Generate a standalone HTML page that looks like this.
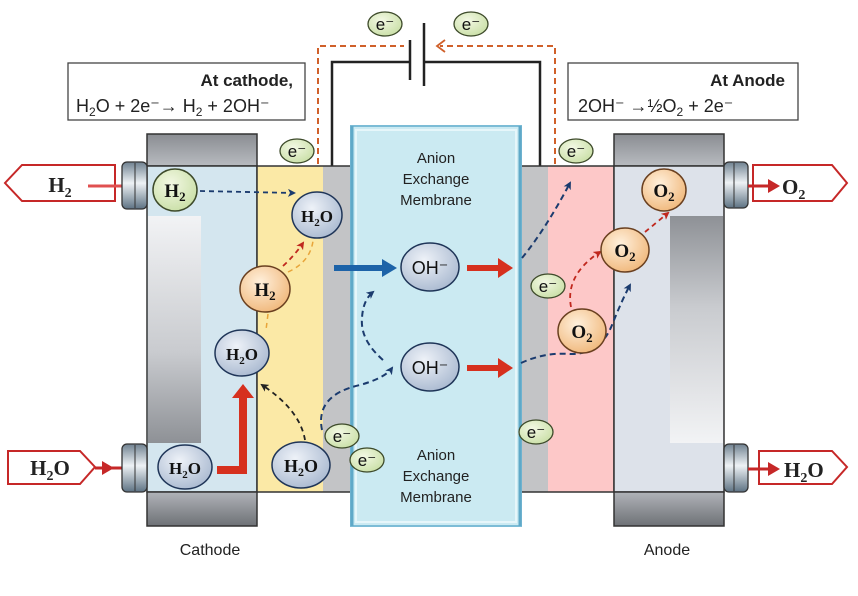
<!DOCTYPE html>
<html><head><meta charset="utf-8"><style>
html,body{margin:0;padding:0;background:#fff}
svg{display:block}
text{font-family:"Liberation Sans",sans-serif}
.s, .s text, text.s{font-family:"Liberation Serif",serif;font-weight:bold}
</style></head><body>
<svg width="858" height="596" viewBox="0 0 858 596" xmlns="http://www.w3.org/2000/svg">
<defs>
<linearGradient id="cap" x1="0" y1="0" x2="0" y2="1"><stop offset="0" stop-color="#8a8d92"/><stop offset="1" stop-color="#b8bbc0"/></linearGradient>
<linearGradient id="capb" x1="0" y1="0" x2="0" y2="1"><stop offset="0" stop-color="#b0b3b8"/><stop offset="1" stop-color="#6e7176"/></linearGradient>
<linearGradient id="rec" x1="0" y1="0" x2="0" y2="1"><stop offset="0" stop-color="#f2f3f5"/><stop offset="0.6" stop-color="#c9cbcf"/><stop offset="1" stop-color="#8e9196"/></linearGradient>
<linearGradient id="recr" x1="0" y1="0" x2="0" y2="1"><stop offset="0" stop-color="#8e9196"/><stop offset="0.4" stop-color="#c9cbcf"/><stop offset="1" stop-color="#f2f3f5"/></linearGradient>
<linearGradient id="cyl" x1="0" y1="0" x2="0" y2="1"><stop offset="0" stop-color="#6f8190"/><stop offset="0.45" stop-color="#eef2f5"/><stop offset="1" stop-color="#5d7283"/></linearGradient>
<radialGradient id="gb" cx="0.4" cy="0.35" r="0.7"><stop offset="0" stop-color="#eef2f8"/><stop offset="1" stop-color="#a9b9d0"/></radialGradient>
<radialGradient id="go" cx="0.4" cy="0.35" r="0.7"><stop offset="0" stop-color="#fff0dc"/><stop offset="1" stop-color="#f0b77a"/></radialGradient>
<radialGradient id="gg" cx="0.4" cy="0.35" r="0.7"><stop offset="0" stop-color="#f3f8e4"/><stop offset="1" stop-color="#c9dfa6"/></radialGradient>
<marker id="ab" markerWidth="8" markerHeight="8" refX="6" refY="4" orient="auto" markerUnits="userSpaceOnUse"><path d="M0,0 L8,4 L0,8 L2,4z" fill="#1b3b6e"/></marker>
<marker id="ar" markerWidth="8" markerHeight="8" refX="6" refY="4" orient="auto" markerUnits="userSpaceOnUse"><path d="M0,0 L8,4 L0,8 L2,4z" fill="#c0281e"/></marker>
<marker id="ak" markerWidth="8" markerHeight="8" refX="6" refY="4" orient="auto" markerUnits="userSpaceOnUse"><path d="M0,0 L8,4 L0,8 L2,4z" fill="#222"/></marker>
</defs>

<!-- circuit -->
<path d="M332,166 V62 H410 M424,62 H540 V166" fill="none" stroke="#222" stroke-width="2.5"/>
<line x1="410" y1="40" x2="410" y2="80" stroke="#222" stroke-width="2.5"/>
<line x1="424" y1="23" x2="424" y2="86" stroke="#222" stroke-width="2.5"/>
<path d="M318,164 V46 H404" fill="none" stroke="#d0602a" stroke-width="2" stroke-dasharray="6,4"/>
<path d="M555,164 V46 H440" fill="none" stroke="#d0602a" stroke-width="2" stroke-dasharray="6,4"/>
<path d="M445,40 L437,46 L445,52" fill="none" stroke="#d0602a" stroke-width="1.8"/>

<!-- boxes -->
<rect x="68" y="63" width="237" height="57" fill="#fff" stroke="#444" stroke-width="1.3"/>
<text x="293" y="86" text-anchor="end" font-size="17" font-weight="bold" fill="#222">At cathode,</text>
<text x="76" y="112" font-size="18" fill="#222">H<tspan font-size="12" dy="4">2</tspan><tspan dy="-4">O + 2e⁻→ H</tspan><tspan font-size="12" dy="4">2</tspan><tspan dy="-4"> + 2OH⁻</tspan></text>
<rect x="568" y="63" width="230" height="57" fill="#fff" stroke="#444" stroke-width="1.3"/>
<text x="785" y="86" text-anchor="end" font-size="17" font-weight="bold" fill="#222">At Anode</text>
<text x="578" y="112" font-size="18" fill="#222">2OH⁻ →½O<tspan font-size="12" dy="4">2</tspan><tspan dy="-4"> + 2e⁻</tspan></text>

<!-- left block -->
<rect x="147" y="134" width="110" height="32" fill="url(#cap)" stroke="#333" stroke-width="1.5"/>
<rect x="147" y="166" width="110" height="326" fill="#d4e6ef" stroke="#333" stroke-width="1.5"/>
<rect x="148" y="216" width="53" height="227" fill="url(#rec)"/>
<rect x="147" y="492" width="110" height="34" fill="url(#capb)" stroke="#333" stroke-width="1.5"/>
<rect x="257" y="166" width="66" height="326" fill="#fbe9a6"/>
<rect x="323" y="166" width="28" height="326" fill="#c3c4c6"/>
<path d="M257,166 H351 M257,492 H351 M257,166 V492" stroke="#333" stroke-width="1.5" fill="none"/>
<!-- right block -->
<rect x="521" y="166" width="27" height="326" fill="#c3c4c6"/>
<rect x="548" y="166" width="66" height="326" fill="#fdc8c8"/>
<path d="M521,166 H614 M521,492 H614 M614,166 V492 M521,166 V492" stroke="#333" stroke-width="1.5" fill="none"/>
<rect x="614" y="134" width="110" height="32" fill="url(#cap)" stroke="#333" stroke-width="1.5"/>
<rect x="614" y="166" width="110" height="326" fill="#dde2ea" stroke="#333" stroke-width="1.5"/>
<rect x="670" y="216" width="53" height="227" fill="url(#recr)"/>
<rect x="614" y="492" width="110" height="34" fill="url(#capb)" stroke="#333" stroke-width="1.5"/>

<!-- membrane -->
<rect x="351" y="126" width="170" height="400" fill="#cbeaf2" stroke="#7cbcd6" stroke-width="2"/>
<rect x="356" y="130" width="160" height="392" fill="none" stroke="#e6f6fa" stroke-width="2"/>
<line x1="352" y1="126" x2="352" y2="526" stroke="#5fa9c8" stroke-width="3"/>
<line x1="520" y1="126" x2="520" y2="526" stroke="#5fa9c8" stroke-width="3"/>
<text x="436" y="163" text-anchor="middle" font-size="15" fill="#222">Anion</text>
<text x="436" y="184" text-anchor="middle" font-size="15" fill="#222">Exchange</text>
<text x="436" y="205" text-anchor="middle" font-size="15" fill="#222">Membrane</text>
<text x="436" y="460" text-anchor="middle" font-size="15" fill="#222">Anion</text>
<text x="436" y="481" text-anchor="middle" font-size="15" fill="#222">Exchange</text>
<text x="436" y="502" text-anchor="middle" font-size="15" fill="#222">Membrane</text>

<!-- connectors -->
<path d="M115,165 H22 L5,183 L22,201 H115z" fill="#fff" stroke="#c62828" stroke-width="2"/>
<text x="60" y="192" text-anchor="middle" font-size="21" class="s" fill="#222">H<tspan font-size="14" dy="5">2</tspan></text>
<line x1="88" y1="186" x2="122" y2="186" stroke="#e05050" stroke-width="3"/>
<rect x="122" y="162" width="25" height="47" rx="5" fill="url(#cyl)" stroke="#333" stroke-width="1.3"/>
<line x1="135" y1="163" x2="135" y2="208" stroke="#333" stroke-width="1"/>

<path d="M8,451 H80 L95,467 L80,484 H8z" fill="#fff" stroke="#c62828" stroke-width="2"/>
<text x="50" y="475" text-anchor="middle" font-size="21" class="s" fill="#222">H<tspan font-size="14" dy="5">2</tspan><tspan dy="-5">O</tspan></text>
<line x1="95" y1="468" x2="122" y2="468" stroke="#c62828" stroke-width="3"/>
<path d="M102,461 L114,468 L102,475z" fill="#c62828"/>
<rect x="122" y="444" width="25" height="48" rx="5" fill="url(#cyl)" stroke="#333" stroke-width="1.3"/>
<line x1="135" y1="445" x2="135" y2="491" stroke="#333" stroke-width="1"/>

<rect x="724" y="162" width="24" height="46" rx="5" fill="url(#cyl)" stroke="#333" stroke-width="1.3"/>
<line x1="734" y1="163" x2="734" y2="207" stroke="#333" stroke-width="1"/>
<path d="M753,165 H832 L847,183 L832,201 H753z" fill="#fff" stroke="#c62828" stroke-width="2"/>
<line x1="748" y1="186" x2="770" y2="186" stroke="#c62828" stroke-width="3"/>
<path d="M768,179 L780,186 L768,193z" fill="#c62828"/>
<text x="782" y="194" font-size="21" class="s" fill="#222">O<tspan font-size="14" dy="5">2</tspan></text>

<rect x="724" y="444" width="24" height="48" rx="5" fill="url(#cyl)" stroke="#333" stroke-width="1.3"/>
<line x1="734" y1="445" x2="734" y2="491" stroke="#333" stroke-width="1"/>
<path d="M759,451 H832 L847,467 L832,484 H759z" fill="#fff" stroke="#c62828" stroke-width="2"/>
<line x1="748" y1="469" x2="770" y2="469" stroke="#c62828" stroke-width="3"/>
<path d="M768,462 L780,469 L768,476z" fill="#c62828"/>
<text x="784" y="477" font-size="21" class="s" fill="#222">H<tspan font-size="14" dy="5">2</tspan><tspan dy="-5">O</tspan></text>

<!-- dashed paths -->
<line x1="200" y1="191" x2="294" y2="193" stroke="#1b3b6e" stroke-width="1.8" stroke-dasharray="5,4" marker-end="url(#ab)"/>
<path d="M283,266 Q295,255 303,243" fill="none" stroke="#c0281e" stroke-width="1.8" stroke-dasharray="5,4" marker-end="url(#ar)"/>
<path d="M288,272 Q310,262 313,241" fill="none" stroke="#e8a53a" stroke-width="1.5" stroke-dasharray="5,4"/>
<path d="M268,314 L266,330" fill="none" stroke="#e8a53a" stroke-width="1.5" stroke-dasharray="5,4"/>
<path d="M305,440 Q300,410 262,385" fill="none" stroke="#222" stroke-width="1.8" stroke-dasharray="5,4" marker-end="url(#ak)"/>
<path d="M322,430 Q315,395 360,385 Q385,378 392,368" fill="none" stroke="#1b3b6e" stroke-width="2" stroke-dasharray="6,4" marker-end="url(#ab)"/>
<path d="M383,360 Q360,340 362,318 Q363,300 373,292" fill="none" stroke="#1b3b6e" stroke-width="2" stroke-dasharray="6,4" marker-end="url(#ab)"/>
<path d="M522,258 Q545,230 570,183" fill="none" stroke="#1b3b6e" stroke-width="2" stroke-dasharray="6,4" marker-end="url(#ab)"/>
<path d="M521,363 Q545,352 570,354 Q600,355 612,325 Q622,300 630,285" fill="none" stroke="#1b3b6e" stroke-width="2" stroke-dasharray="6,4" marker-end="url(#ab)"/>
<path d="M571,307 Q565,275 600,252" fill="none" stroke="#c0281e" stroke-width="1.8" stroke-dasharray="5,4" marker-end="url(#ar)"/>
<path d="M645,232 L668,213" fill="none" stroke="#c0281e" stroke-width="1.8" stroke-dasharray="5,4" marker-end="url(#ar)"/>

<!-- solid arrows -->
<line x1="334" y1="268" x2="385" y2="268" stroke="#1d63a8" stroke-width="6"/>
<path d="M382,259 L397,268 L382,277z" fill="#1d63a8"/>
<line x1="467" y1="268" x2="500" y2="268" stroke="#d6301e" stroke-width="6"/>
<path d="M498,258 L513,268 L498,278z" fill="#d6301e"/>
<line x1="467" y1="368" x2="500" y2="368" stroke="#d6301e" stroke-width="6"/>
<path d="M498,358 L513,368 L498,378z" fill="#d6301e"/>
<path d="M217,466 H239 V398 H232 L243,384 L254,398 H247 V474 H217z" fill="#d6301e"/>

<!-- molecules -->
<g stroke="#1f3558" stroke-width="1.5">
<ellipse cx="175" cy="190" rx="22" ry="21" fill="url(#gg)" stroke="#3d4a2a"/>
<ellipse cx="317" cy="215" rx="25" ry="23" fill="url(#gb)"/>
<ellipse cx="265" cy="289" rx="25" ry="23" fill="url(#go)" stroke="#6a4020"/>
<ellipse cx="242" cy="353" rx="27" ry="23" fill="url(#gb)"/>
<ellipse cx="185" cy="467" rx="27" ry="22" fill="url(#gb)"/>
<ellipse cx="301" cy="465" rx="29" ry="23" fill="url(#gb)"/>
<ellipse cx="430" cy="267" rx="29" ry="24" fill="url(#gb)"/>
<ellipse cx="430" cy="367" rx="29" ry="24" fill="url(#gb)"/>
<ellipse cx="664" cy="190" rx="22" ry="21" fill="url(#go)" stroke="#6a4020"/>
<ellipse cx="625" cy="250" rx="24" ry="22" fill="url(#go)" stroke="#6a4020"/>
<ellipse cx="582" cy="331" rx="24" ry="22" fill="url(#go)" stroke="#6a4020"/>
</g>
<g class="s" font-size="19" fill="#111" text-anchor="middle">
<text class="s" x="175" y="197">H<tspan font-size="13" dy="4">2</tspan></text>
<text class="s" x="317" y="222" font-size="17">H<tspan font-size="11" dy="4">2</tspan><tspan dy="-4">O</tspan></text>
<text class="s" x="265" y="296">H<tspan font-size="13" dy="4">2</tspan></text>
<text class="s" x="242" y="360" font-size="17">H<tspan font-size="11" dy="4">2</tspan><tspan dy="-4">O</tspan></text>
<text class="s" x="185" y="474" font-size="17">H<tspan font-size="11" dy="4">2</tspan><tspan dy="-4">O</tspan></text>
<text class="s" x="301" y="472" font-size="18">H<tspan font-size="12" dy="4">2</tspan><tspan dy="-4">O</tspan></text>
<text class="s" x="664" y="197">O<tspan font-size="13" dy="4">2</tspan></text>
<text class="s" x="625" y="257">O<tspan font-size="13" dy="4">2</tspan></text>
<text class="s" x="582" y="338">O<tspan font-size="13" dy="4">2</tspan></text>
</g>
<text x="430" y="274" text-anchor="middle" font-size="18" fill="#111">OH⁻</text>
<text x="430" y="374" text-anchor="middle" font-size="18" fill="#111">OH⁻</text>

<!-- electrons -->
<g fill="url(#gg)" stroke="#3d4a2a" stroke-width="1.3">
<ellipse cx="385" cy="24" rx="17" ry="12"/>
<ellipse cx="471" cy="24" rx="17" ry="12"/>
<ellipse cx="297" cy="151" rx="17" ry="12"/>
<ellipse cx="576" cy="151" rx="17" ry="12"/>
<ellipse cx="548" cy="286" rx="17" ry="12"/>
<ellipse cx="536" cy="432" rx="17" ry="12"/>
<ellipse cx="342" cy="436" rx="17" ry="12"/>
<ellipse cx="367" cy="460" rx="17" ry="12"/>
</g>
<g font-size="17" fill="#111" text-anchor="middle">
<text x="385" y="30">e⁻</text><text x="471" y="30">e⁻</text>
<text x="297" y="157">e⁻</text><text x="576" y="157">e⁻</text>
<text x="548" y="292">e⁻</text><text x="536" y="438">e⁻</text>
<text x="342" y="442">e⁻</text><text x="367" y="466">e⁻</text>
</g>

<text x="210" y="555" text-anchor="middle" font-size="16" fill="#222">Cathode</text>
<text x="667" y="555" text-anchor="middle" font-size="16" fill="#222">Anode</text>
</svg>
</body></html>
